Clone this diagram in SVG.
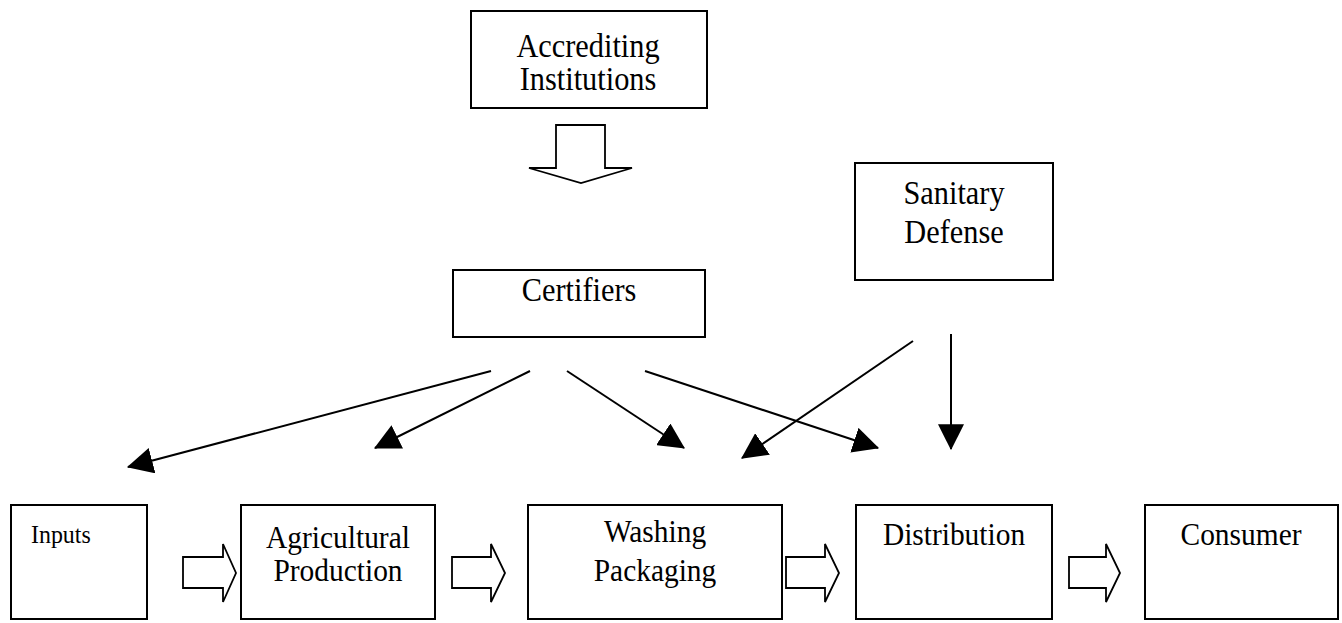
<svg xmlns="http://www.w3.org/2000/svg" width="1342" height="623" viewBox="0 0 1342 623">
<style>
.box{fill:#fff;stroke:#000;stroke-width:2}
.blk{fill:#fff;stroke:#000;stroke-width:1.8;stroke-linejoin:miter}
.t{font-family:"Liberation Serif","Times New Roman",serif;font-size:33px;fill:#000;text-anchor:middle}
.tb{font-family:"Liberation Serif","Times New Roman",serif;font-size:32px;fill:#000;text-anchor:middle}
.ts{font-family:"Liberation Serif","Times New Roman",serif;font-size:26px;fill:#000}
.ln{stroke:#000;stroke-width:2;fill:none;marker-end:url(#ah)}
</style>
<defs>
<marker id="ah" markerUnits="userSpaceOnUse" markerWidth="26" markerHeight="26" viewBox="0 0 23 23" refX="22" refY="11.5" orient="auto">
<path d="M0,0 L23,11.5 L0,23 z" fill="#000"/>
</marker>
</defs>
<rect width="1342" height="623" fill="#fff"/>

<g id="accrediting">
<rect class="box" x="471" y="11" width="236" height="97"/>
<text class="t" transform="translate(588,0) scale(0.92,1)"><tspan x="0" y="57">Accrediting</tspan><tspan x="0" y="90">Institutions</tspan></text>
</g>

<g id="certifiers">
<rect class="box" x="453" y="270" width="252" height="67"/>
<text class="t" transform="translate(579,301) scale(0.92,1)">Certifiers</text>
</g>

<g id="sanitary">
<rect class="box" x="855" y="163" width="198" height="117"/>
<text class="t" transform="translate(954,0) scale(0.92,1)"><tspan x="0" y="204">Sanitary</tspan><tspan x="0" y="243">Defense</tspan></text>
</g>

<g id="inputs">
<rect class="box" x="11" y="505" width="136" height="114"/>
<text class="ts" transform="translate(31,543) scale(0.92,1)">Inputs</text>
</g>

<g id="agricultural">
<rect class="box" x="241" y="505" width="194" height="114"/>
<text class="tb" transform="translate(338,0) scale(0.92,1)"><tspan x="0" y="548">Agricultural</tspan><tspan x="0" y="581">Production</tspan></text>
</g>

<g id="washing">
<rect class="box" x="528" y="505" width="254" height="114"/>
<text class="tb" transform="translate(655,0) scale(0.92,1)"><tspan x="0" y="542">Washing</tspan><tspan x="0" y="581">Packaging</tspan></text>
</g>

<g id="distribution">
<rect class="box" x="856" y="505" width="196" height="114"/>
<text class="tb" transform="translate(954,545) scale(0.92,1)">Distribution</text>
</g>

<g id="consumer">
<rect class="box" x="1145" y="505" width="193" height="114"/>
<text class="tb" transform="translate(1241,545) scale(0.92,1)">Consumer</text>
</g>

<g id="connectors">
<polygon class="blk" points="556,125 605,125 605,168 632,168 581,183 529,168 556,168"/>
<polygon class="blk" points="183,557 223,557 223,544 236,573 223,602 223,588 183,588"/>
<polygon class="blk" points="452,557 491,557 491,544 505,573 491,602 491,588 452,588"/>
<polygon class="blk" points="786,557 825,557 825,544 839,573 825,602 825,588 786,588"/>
<polygon class="blk" points="1069,557 1106,557 1106,544 1120,573 1106,602 1106,588 1069,588"/>
<line class="ln" x1="491" y1="371" x2="128" y2="467"/>
<line class="ln" x1="530" y1="371" x2="375" y2="448"/>
<line class="ln" x1="567" y1="371" x2="684" y2="448"/>
<line class="ln" x1="645" y1="371" x2="878" y2="448"/>
<line class="ln" x1="913" y1="341" x2="742" y2="458"/>
<line class="ln" x1="951" y1="334" x2="951" y2="449"/>
</g>
</svg>
